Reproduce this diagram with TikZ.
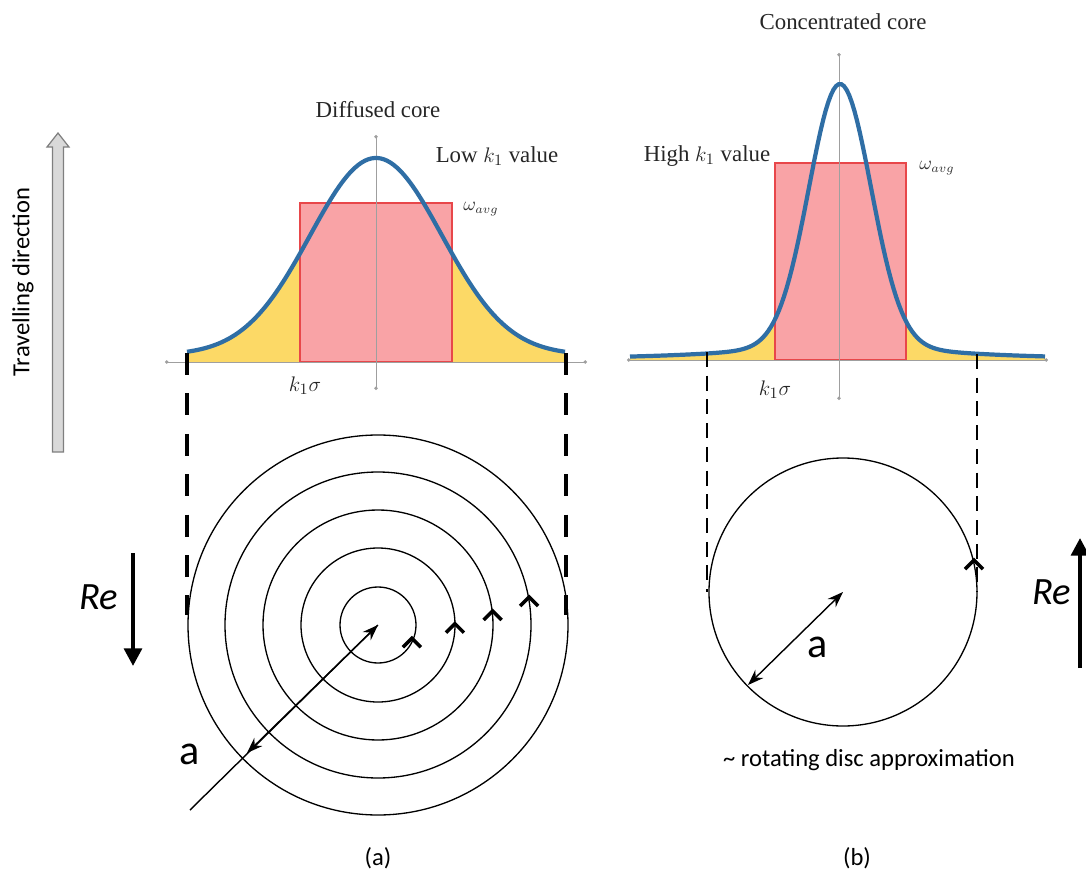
\documentclass[tikz,border=0pt]{standalone}
\usepackage{fontspec}
\setmainfont{Carlito}
\newfontfamily\timesfont{Liberation Serif}
\usepackage{tikz}
\usetikzlibrary{arrows.meta, calc}

\definecolor{curveblue}{HTML}{2F6EA5}
\definecolor{corepink}{HTML}{F9A3A6}
\definecolor{corered}{HTML}{E8474A}
\definecolor{tailyellow}{HTML}{FCD966}
\definecolor{travelfill}{HTML}{D9D9D9}
\definecolor{traveldraw}{HTML}{7F7F7F}

\begin{document}
\begin{tikzpicture}[
                x=0.02cm, y=-0.02cm,
                axisline/.style={draw=gray!75, line width=0.5pt, {Circle[length=2pt]}-{Circle[length=2pt]}},
                profile/.style={draw=curveblue, line width=2.4pt},
                corebox/.style={fill=corepink, draw=corered, line width=0.8pt},
                plotlabel/.style={font=\timesfont\fontsize{13}{15}\selectfont, text=black!85, inner sep=0pt},
                avglabel/.style={font=\fontsize{10.5}{12}\selectfont, text=black!80, inner sep=0pt},
                projthick/.style={line width=2.8pt, dash pattern=on 12.5pt off 10.5pt},
                projthin/.style={line width=1.6pt, dash pattern=on 8.5pt off 5pt},
                ring/.style={line width=0.75pt},
                caret/.style={line width=2pt, line join=miter},
                radiusarrow/.style={line width=0.8pt, -{Stealth[length=9pt, width=6.5pt]}},
                rearrow/.style={line width=2.3pt, -{Triangle[length=10pt, width=10pt]}},
                relabel/.style={font=\itshape\fontsize{22}{24}\selectfont, inner sep=0pt},
                alabel/.style={font=\fontsize{24}{26}\selectfont, inner sep=0pt},
                caption/.style={font=\fontsize{14}{16}\selectfont, inner sep=0pt}
            ]
            \useasboundingbox (0,0) rectangle (1086,872);

            % Travelling direction
            \draw[fill=travelfill, draw=traveldraw, line width=0.7pt]
                (52.5,452) -- (52.5,147) -- (47,147) -- (58,133) -- (69,147) -- (63.5,147) -- (63.5,452) -- cycle;
            \node[caption, rotate=90] (travel) at (23,282) {Travelling direction};

            % (a) diffused core profile
            \fill[tailyellow] plot[domain=187:300, samples=60] (\x, {355 - 197*exp(-0.5*((\x-376)/66)^2)}) -- (300,362) -- (187,362) -- cycle;
            \fill[tailyellow] plot[domain=452:565, samples=60] (\x, {355 - 197*exp(-0.5*((\x-376)/66)^2)}) -- (565,362) -- (452,362) -- cycle;
            \filldraw[corebox] (300,362) rectangle (452,203);
            \draw[axisline] (165,362) -- (587,362);
            \draw[axisline] (376,390) -- (376,135);
            \draw[profile] plot[domain=187:565, samples=120] (\x, {355 - 197*exp(-0.5*((\x-376)/66)^2)});
            \node[plotlabel] (diffTitle) at (378,110) {Diffused core};
            \node[plotlabel] (lowK) at (497,156) {Low $k_1$ value};
            \node[avglabel] (avgA) at (481,209) {$\omega_{avg}$};
            \node[plotlabel] (sigA) at (305,386) {$k_1\sigma$};

            % (b) concentrated core profile
            \fill[tailyellow] plot[domain=630:775, samples=80] (\x, {360 - 260*exp(-0.5*((\x-840)/31)^2) - 16/(1+((\x-840)/110)^2)}) -- (775,360) -- (630,360) -- cycle;
            \fill[tailyellow] plot[domain=906:1045, samples=80] (\x, {360 - 260*exp(-0.5*((\x-840)/31)^2) - 16/(1+((\x-840)/110)^2)}) -- (1045,360) -- (906,360) -- cycle;
            \filldraw[corebox] (775,360) rectangle (906,163);
            \draw[axisline] (627,360) -- (1048,360);
            \draw[axisline] (839,400) -- (839,53);
            \draw[profile] plot[domain=630:1045, samples=160] (\x, {360 - 260*exp(-0.5*((\x-840)/31)^2) - 16/(1+((\x-840)/110)^2)});
            \node[plotlabel] (concTitle) at (843,22) {Concentrated core};
            \node[plotlabel] (highK) at (707,156) {High $k_1$ value};
            \node[avglabel] (avgB) at (937,168) {$\omega_{avg}$};
            \node[plotlabel] (sigB) at (775,390) {$k_1\sigma$};

            % Vortex (a): concentric rings
            \coordinate (ca) at (378,625);
            \foreach \r in {38,77,115,153,190}
                \draw[ring] (ca) circle[radius=\r];
            \foreach \r/\ang in {38/27, 77/2, 115/-5, 153/-9}
                \draw[caret] ($(ca)+(\ang:\r)+(-9,5)$) -- ++(9,-9) -- ++(9,9);
            \coordinate (atail) at (190,810);
            \coordinate (aend) at (247,753);
            \draw[radiusarrow] (atail) -- (ca);
            \draw[radiusarrow] (ca) -- (aend);
            \node[alabel] (aA) at (190,754) {a};

            % Vortex (b): rotating disc
            \coordinate (cb) at (843,592);
            \draw[ring] (cb) circle[radius=134];
            \draw[caret] ($(cb)+(-12:134)+(-9,5)$) -- ++(9,-9) -- ++(9,9);
            \coordinate (bend) at (748,685);
            \draw[radiusarrow, {Stealth[length=9pt, width=6.5pt]}-{Stealth[length=9pt, width=6.5pt]}] (bend) -- (cb);
            \node[alabel] (aB) at (818,647) {a};
            \node[caption] (disc) at (869,760) {\textasciitilde{} rotating disc approximation};

            % Projection lines
            \coordinate (pAl) at (187,353);
            \coordinate (pAr) at (566,353);
            \draw[projthick] (pAl) -- (187,615);
            \draw[projthick] (pAr) -- (566,615);
            \coordinate (pBl) at (707,352);
            \coordinate (pBr) at (977,354);
            \draw[projthin] (pBl) -- (pBl |- cb);
            \draw[projthin] (pBr) -- (pBr |- cb);

            % Reynolds arrows
            \coordinate (reLtop) at (133,553);
            \coordinate (reLtip) at (133,666);
            \draw[rearrow] (reLtop) -- (reLtip);
            \node[relabel] (reL) at (99,597) {Re};
            \coordinate (reRbot) at (1080,668);
            \coordinate (reRtip) at (1080,538);
            \draw[rearrow] (reRbot) -- (reRtip);
            \node[relabel] (reR) at (1052,592) {Re};

            % Captions
            \node[caption] (capA) at (378,858) {(a)};
            \node[caption] (capB) at (857,858) {(b)};
\end{tikzpicture}
\end{document}
